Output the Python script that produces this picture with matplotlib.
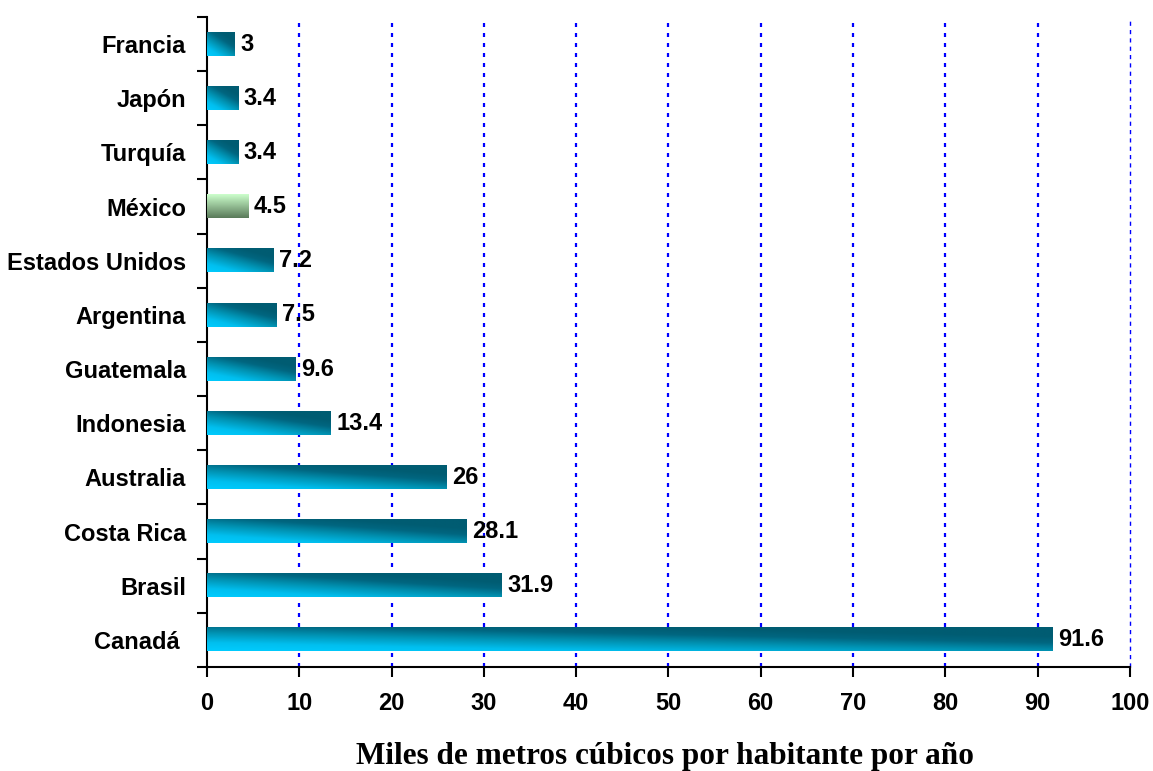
import numpy as np
import matplotlib
matplotlib.use("Agg")
import matplotlib.pyplot as plt
from matplotlib.colors import LinearSegmentedColormap

# datos (de abajo hacia arriba)
paises = ["Canadá ", "Brasil", "Costa Rica", "Australia", "Indonesia", "Guatemala",
          "Argentina", "Estados Unidos", "México", "Turquía", "Japón", "Francia"]
valores = [91.6, 31.9, 28.1, 26, 13.4, 9.6, 7.5, 7.2, 4.5, 3.4, 3.4, 3]
etiquetas = ["91.6", "31.9", "28.1", "26", "13.4", "9.6", "7.5", "7.2", "4.5", "3.4", "3.4", "3"]
xticks = list(range(0, 101, 10))
destacado = "México"

plt.rcParams["font.family"] = ["Liberation Sans", "DejaVu Sans"]

cmap_azul = LinearSegmentedColormap.from_list(
    "azul", [(0.0, "#00CCFF"), (0.25, "#00BFEF"), (0.55, "#0092B2"),
             (0.8, "#006680"), (1.0, "#005C72")])
cmap_verde = LinearSegmentedColormap.from_list(
    "verde", [(0.0, "#5A7A5A"), (1.0, "#CCFFCC")])

fig = plt.figure(figsize=(11.53, 7.71), dpi=100, facecolor="white")
ax = fig.add_axes([0.1795, 0.135, 0.8005, 0.843])

pos = np.arange(len(paises))
bars = ax.barh(pos, valores, height=0.43, color="none", edgecolor="none", zorder=3)

# relleno degradado de cada barra
n = 64
u, v = np.meshgrid(np.linspace(0, 1, n), np.linspace(0, 1, n))
for b, p in zip(bars, paises):
    x0, y0, w, h = b.get_x(), b.get_y(), b.get_width(), b.get_height()
    if p == destacado:
        img = cmap_verde(v)
    else:
        img = cmap_azul(np.clip(0.72 * v + 0.55 * u, 0, 1))
    ax.imshow(img, extent=[x0, x0 + w, y0, y0 + h], origin="lower",
              aspect="auto", zorder=3, interpolation="bilinear")

for b, t in zip(bars, etiquetas):
    ax.text(b.get_width() + 0.6, b.get_y() + b.get_height() / 2, t,
            va="center", ha="left", fontsize=17, fontweight="bold", zorder=4)

# rejilla vertical azul punteada
for x in xticks[1:-1]:
    ax.axvline(x, color="#0000FF", lw=1.6, linestyle=(0, (1.8, 2.7)), zorder=1)
ax.axvline(100, color="#0000FF", lw=1.0, linestyle=(0, (3, 3)), zorder=1, clip_on=False)

ax.set_xlim(0, 100)
ax.set_ylim(-0.5, len(paises) - 0.5)
ax.set_xticks(xticks)
ax.set_xticklabels([str(x) for x in xticks], fontsize=17, fontweight="bold")
ax.set_yticks(pos)
ax.set_yticklabels(paises, fontsize=17, fontweight="bold")
ax.set_yticks(np.arange(-0.5, len(paises), 1), minor=True)
ax.tick_params(axis="y", which="major", length=0, pad=15)
ax.tick_params(axis="y", which="minor", length=7, width=1.5, direction="out")
ax.tick_params(axis="x", length=7, width=1.5, direction="out", pad=11)

for s in ["top", "right"]:
    ax.spines[s].set_visible(False)
for s in ["left", "bottom"]:
    ax.spines[s].set_linewidth(1.5)

# título del eje x, pegado al borde inferior como en el original
fig.text(0.577, 0.009, "Miles de metros cúbicos por habitante por año",
         ha="center", va="baseline", fontsize=22.5, fontweight="bold",
         family=["Liberation Serif", "DejaVu Serif"])

fig.savefig("out.png", dpi=100, facecolor="white")
